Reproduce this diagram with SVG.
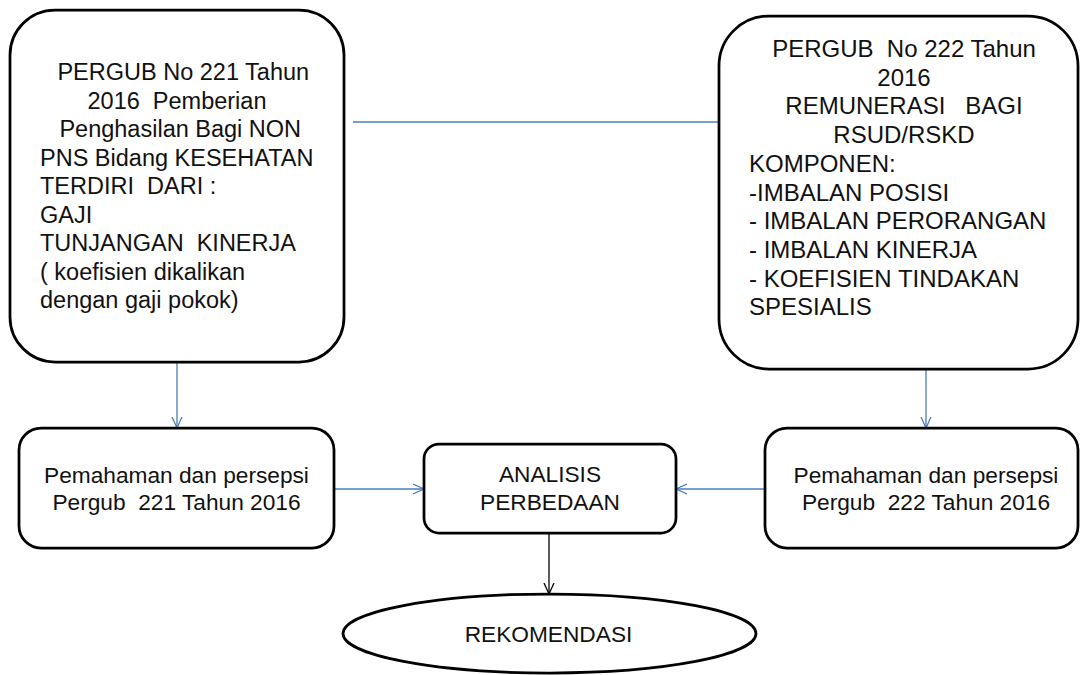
<svg xmlns="http://www.w3.org/2000/svg" width="1081" height="675" viewBox="0 0 1081 675">
<style>
.box{fill:#ffffff;stroke:#000000;stroke-width:2.75}
.t{font-family:"Liberation Sans",Arial,sans-serif;font-size:23.5px;fill:#111111;white-space:pre}
.r{font-size:24px}
.s{font-size:22.7px}
.c{text-anchor:middle}
.blue{stroke:#4a7ebb;stroke-width:1.3;fill:none}
.blk{stroke:#000000;stroke-width:1.3;fill:none}
</style>
<defs>
<marker id="ab" markerUnits="userSpaceOnUse" markerWidth="14" markerHeight="14" refX="11" refY="6" orient="auto" viewBox="0 0 14 12">
<path d="M0,1 L11,6 L0,11" fill="none" stroke="#4a7ebb" stroke-width="1.3"/>
</marker>
<marker id="ak" markerUnits="userSpaceOnUse" markerWidth="14" markerHeight="14" refX="11" refY="6" orient="auto" viewBox="0 0 14 12">
<path d="M0,1 L11,6 L0,11" fill="none" stroke="#000000" stroke-width="1.3"/>
</marker>
</defs>
<g id="connectors">
<path class="blue" d="M353,122 H719"/>
<path class="blue" d="M177,362 V428" marker-end="url(#ab)"/>
<path class="blue" d="M926,369 V428" marker-end="url(#ab)"/>
<path class="blue" d="M334,489 H424" marker-end="url(#ab)"/>
<path class="blue" d="M765,489 H676" marker-end="url(#ab)"/>
<path class="blk" d="M549,533 V594" marker-end="url(#ak)"/>
</g>
<g id="pergub221">
<rect class="box" x="10" y="10" width="334" height="352" rx="45" ry="45"/>
<text class="t c" x="180" y="80"> PERGUB No 221 Tahun</text>
<text class="t c" x="177" y="108.5">2016  Pemberian</text>
<text class="t c" x="177" y="137"> Penghasilan Bagi NON</text>
<text class="t" x="40" y="165.5">PNS Bidang KESEHATAN</text>
<text class="t" x="40" y="194">TERDIRI  DARI :</text>
<text class="t" x="40" y="222.5">GAJI</text>
<text class="t" x="40" y="251">TUNJANGAN  KINERJA</text>
<text class="t" x="40" y="279.5">( koefisien dikalikan</text>
<text class="t" x="40" y="308">dengan gaji pokok)</text>
</g>
<g id="pergub222">
<rect class="box" x="719" y="16" width="359" height="353" rx="50" ry="50"/>
<text class="t r c" x="904" y="57">PERGUB  No 222 Tahun</text>
<text class="t r c" x="904" y="85.7">2016</text>
<text class="t r c" x="904" y="114.4">REMUNERASI   BAGI</text>
<text class="t r c" x="904" y="143.1">RSUD/RSKD</text>
<text class="t r" x="749" y="171.8">KOMPONEN:</text>
<text class="t r" x="749" y="200.5">-IMBALAN POSISI</text>
<text class="t r" x="749" y="229.2">- IMBALAN PERORANGAN</text>
<text class="t r" x="749" y="257.9">- IMBALAN KINERJA</text>
<text class="t r" x="749" y="286.6">- KOEFISIEN TINDAKAN</text>
<text class="t r" x="749" y="315.3">SPESIALIS</text>
</g>
<g id="pemahaman221">
<rect class="box" x="19" y="428" width="315" height="120" rx="22" ry="22"/>
<text class="t s c" x="176.5" y="483">Pemahaman dan persepsi</text>
<text class="t s c" x="176.5" y="510">Pergub  221 Tahun 2016</text>
</g>
<g id="analisis">
<rect class="box" x="424" y="444" width="252" height="89" rx="15" ry="15"/>
<text class="t s c" x="550" y="482">ANALISIS</text>
<text class="t s c" x="550" y="510">PERBEDAAN</text>
</g>
<g id="pemahaman222">
<rect class="box" x="765" y="428" width="313" height="120" rx="22" ry="22"/>
<text class="t s c" x="926" y="483">Pemahaman dan persepsi</text>
<text class="t s c" x="926" y="510">Pergub  222 Tahun 2016</text>
</g>
<g id="rekomendasi">
<ellipse class="box" cx="549.5" cy="633.5" rx="206.5" ry="39.5"/>
<text class="t s c" x="548.5" y="642">REKOMENDASI</text>
</g>
</svg>
